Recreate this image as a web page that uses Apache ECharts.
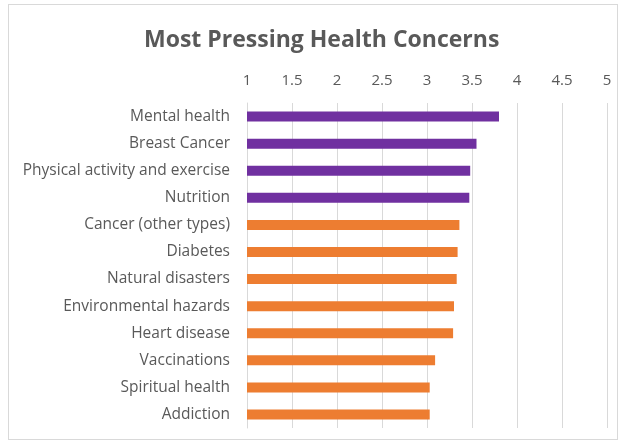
<!DOCTYPE html>
<html>
<head>
<meta charset="utf-8">
<script src="https://cdn.jsdelivr.net/npm/echarts@6/dist/echarts.min.js"></script>
<style>
  html, body { margin: 0; padding: 0; background: #fff; }
  #frame { position: absolute; left: 8px; top: 4px; width: 610px; height: 436px; border: 1px solid #d9d9d9; box-sizing: border-box; }
  #chart { position: absolute; left: 0; top: 0; width: 621px; height: 444px; }
</style>
</head>
<body>
<div id="frame"></div>
<div id="chart"></div>
<script>
const categories = [
  'Mental health', 'Breast Cancer', 'Physical activity and exercise', 'Nutrition',
  'Cancer (other types)', 'Diabetes', 'Natural disasters', 'Environmental hazards',
  'Heart disease', 'Vaccinations', 'Spiritual health', 'Addiction'
];
const scores = [3.80, 3.55, 3.48, 3.47, 3.36, 3.34, 3.33, 3.30, 3.29, 3.09, 3.03, 3.03];
const groups = ['top', 'top', 'top', 'top', 'other', 'other', 'other', 'other', 'other', 'other', 'other', 'other'];
const groupColors = { top: '#7030A0', other: '#ED7D31' };
const axisMin = 1, axisMax = 5, axisStep = 0.5;

const font = 'Open Sans, Noto Sans, sans-serif';
const chart = echarts.init(document.getElementById('chart'), null, { renderer: 'canvas' });
chart.setOption({
  animation: false,
  backgroundColor: 'transparent',
  title: {
    text: 'Most Pressing Health Concerns',
    left: 139, top: 24,
    textStyle: { fontFamily: font, fontSize: 23, fontWeight: 'bold', color: '#595959' }
  },
  grid: { left: 247, right: 14, top: 103, bottom: 16, containLabel: false },
  xAxis: {
    type: 'value', position: 'top',
    min: axisMin, max: axisMax, interval: axisStep,
    axisLine: { show: false }, axisTick: { show: false },
    axisLabel: { fontFamily: font, fontSize: 15, color: '#595959', margin: 15 },
    splitLine: { lineStyle: { color: '#d9d9d9', width: 1 } }
  },
  yAxis: {
    type: 'category', inverse: true, data: categories,
    axisLine: { show: true, lineStyle: { color: '#d9d9d9' } },
    axisTick: { show: false },
    axisLabel: { fontFamily: font, fontSize: 15.5, color: '#595959', margin: 17 }
  },
  series: [{
    type: 'bar', barWidth: 10,
    data: scores.map((v, i) => ({ value: v, itemStyle: { color: groupColors[groups[i]] } }))
  }]
});
</script>
</body>
</html>
